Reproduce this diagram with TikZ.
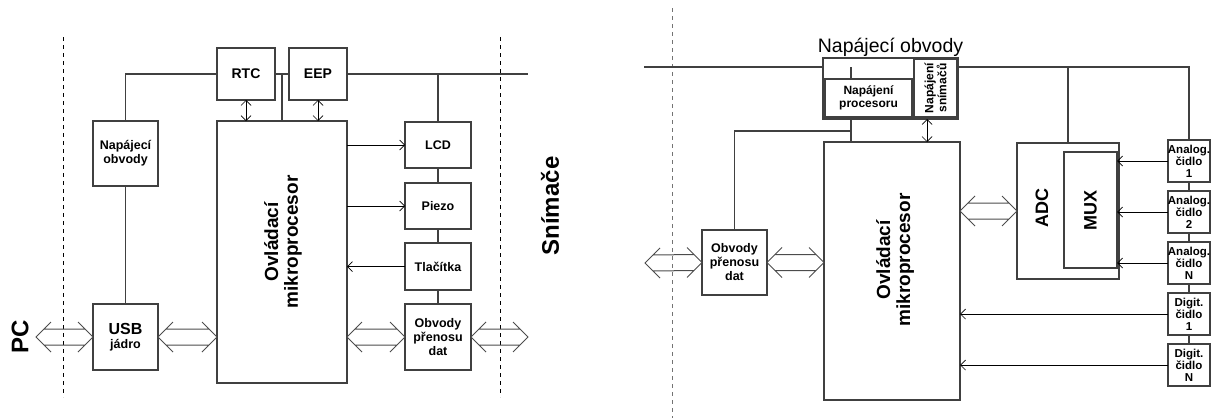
\documentclass[tikz,border=0pt]{standalone}
\usepackage{fontspec}
\setmainfont{Liberation Sans}
\usetikzlibrary{arrows.meta,positioning,calc}
\definecolor{linec}{gray}{0.25}
\definecolor{busc}{gray}{0.3}
\definecolor{sepc}{gray}{0.45}
\tikzset{
  >={Straight Barb[length=5pt,width=10pt]},
  blok/.style={draw=linec, line width=1.2pt, inner sep=0pt, outer sep=0pt, align=center, font=\bfseries\fontsize{12.5}{14}\selectfont},
  cidlo/.style={blok, minimum width=42pt, minimum height=42pt, font=\bfseries\fontsize{11.5}{12}\selectfont},
  wire/.style={draw=linec, line width=1.2pt},
  sig/.style={draw=black, line width=0.7pt},
  sep/.style={dash pattern=on 4pt off 4pt, line width=0.8pt},
  bigtxt/.style={font=\bfseries\fontsize{24}{26}\selectfont, rotate=90, inner sep=0pt},
  mcutxt/.style={font=\bfseries\fontsize{19}{20}\selectfont, rotate=90, inner sep=0pt, align=center},
  bus/.style={draw=busc, line width=1pt, to path={
    ($(\tikztostart)+(15,-15)$) -- (\tikztostart) -- ($(\tikztostart)+(15,15)$)
    ($(\tikztotarget)+(-15,-15)$) -- (\tikztotarget) -- ($(\tikztotarget)+(-15,15)$)
    ($(\tikztostart)+(8,-8)$) -- ($(\tikztotarget)+(-8,-8)$)
    ($(\tikztostart)+(8,8)$) -- ($(\tikztotarget)+(-8,8)$)}}
}
\begin{document}
\begin{tikzpicture}[x=1pt,y=-1pt]
  \useasboundingbox (0,0) rectangle (1212,418);
  % left half
  \draw[sep] (63,37) -- (63,397);
  \draw[sep] (500,37) -- (500,397);
  \node[bigtxt] (pc) at (20,337) {PC};
  \node[bigtxt] (snimace) at (550,206) {Snímače};
  \node[blok, minimum width=58pt, minimum height=52pt, font=\bfseries\fontsize{14}{16}\selectfont] (rtc) at (246,74) {RTC};
  \node[blok, minimum width=58pt, minimum height=52pt, font=\bfseries\fontsize{14}{16}\selectfont] (eep) at (318,74) {EEP};
  \node[blok, minimum width=65pt, minimum height=65pt] (nap) at (125.5,153.5) {Napájecí\\obvody};
  \node[blok, minimum width=65pt, minimum height=66pt] (usb) at (125.5,337) {{\fontsize{16}{17}\selectfont USB}\\jádro};
  \node[blok, minimum width=130pt, minimum height=262pt] (mcu) at (282,252) {};
  \node[mcutxt] (mcutx) at (283,242) {Ovládací\\mikroprocesor};
  \node[blok, minimum width=66pt, minimum height=46pt] (lcd) at (438,145) {LCD};
  \node[blok, minimum width=66pt, minimum height=46pt] (piezo) at (438,206) {Piezo};
  \node[blok, minimum width=66pt, minimum height=47pt] (tlac) at (438,266.5) {Tlačítka};
  \node[blok, minimum width=66pt, minimum height=66pt] (obv) at (438,337) {Obvody\\přenosu\\dat};
  \coordinate (pcL) at (36,337);
  \coordinate (busR1) at (528,74);
  \coordinate (snL) at (528,337);
  \draw[wire] (nap.north) |- (rtc.west);
  \draw[wire] (rtc.east) -- (eep.west);
  \draw[wire] (eep.east) -- (busR1);
  \draw[wire] (mcu.north) -- (mcu.north |- rtc.east);
  \draw[wire] (lcd.north) -- (lcd.north |- eep.east);
  \draw[wire] (nap.south) -- (usb.north);
  \draw[wire] (lcd.south) -- (piezo.north);
  \draw[wire] (piezo.south) -- (tlac.north);
  \draw[wire] (tlac.south) -- (obv.north);
  \draw[sig,<->] (rtc.south) -- (rtc.south |- mcu.north);
  \draw[sig,<->] (eep.south) -- (eep.south |- mcu.north);
  \draw[sig,->] (lcd.west -| mcu.east) -- (lcd.west);
  \draw[sig,->] (piezo.west -| mcu.east) -- (piezo.west);
  \draw[sig,->] (tlac.west) -- (tlac.west -| mcu.east);
  \draw[bus] (pcL) to (usb.west);
  \draw[bus] (usb.east) to (usb.east -| mcu.west);
  \draw[bus] (obv.west -| mcu.east) to (obv.west);
  \draw[bus] (obv.east) to (snL);
  % middle
  \draw[sep, draw=sepc] (672,8) -- (672,418);
  % right half
  \node[blok, minimum width=135pt, minimum height=61pt] (napobv) at (890.5,88.5) {};
  \node[font=\fontsize{19.5}{20}\selectfont, inner sep=0pt, above=1pt of napobv] (napobvtit) {Napájecí obvody};
  \node[blok, minimum width=87pt, minimum height=38pt, font=\bfseries\fontsize{12}{13}\selectfont] (proc) at (868.5,98) {Napájení\\procesoru};
  \node[blok, minimum width=43pt, minimum height=58pt] (snim) at (935.5,88) {};
  \node[rotate=90, inner sep=0pt, align=center, font=\bfseries\fontsize{12}{13}\selectfont] (snimtx) at (snim) {Napájení\\snímačů};
  \node[blok, minimum width=65pt, minimum height=65pt] (obv2) at (734.5,262.5) {Obvody\\přenosu\\dat};
  \node[blok, minimum width=136pt, minimum height=258pt] (mcu2) at (892,271) {};
  \node[mcutxt] (mcu2tx) at (895,260) {Ovládací\\mikroprocesor};
  \node[blok, minimum width=102pt, minimum height=136pt] (adc) at (1068,211) {};
  \node[bigtxt, font=\bfseries\fontsize{18}{20}\selectfont] (adctx) at (1042,208) {ADC};
  \node[blok, minimum width=53pt, minimum height=116pt, font=\bfseries\fontsize{18}{20}\selectfont] (mux) at (1090.5,210) {\rotatebox{90}{MUX}};
  \node[cidlo] (an1) at (1189,161) {Analog.\\čidlo\\1};
  \node[cidlo] (an2) at (1189,212) {Analog.\\čidlo\\2};
  \node[cidlo] (anN) at (1189,263) {Analog.\\čidlo\\N};
  \node[cidlo] (dg1) at (1189,314) {Digit.\\čidlo\\1};
  \node[cidlo] (dgN) at (1189,365) {Digit.\\čidlo\\N};
  \coordinate (busL) at (644,67);
  \coordinate (busR) at (1189,67);
  \coordinate (pj) at (851,131);
  \coordinate (sj) at (927,131);
  \coordinate (pcR) at (645,263);
  \draw[wire] (busL) -- (busL -| napobv.west);
  \draw[wire] (napobv.east |- busR) -- (busR) -- (an1.north);
  \draw[wire] (pj |- busR) -- (pj |- proc.north);
  \draw[wire] (pj |- proc.south) -- (pj |- mcu2.north);
  \draw[wire] (pj) -| (obv2.north);
  \draw[wire] (adc.north) -- (adc.north |- busR);
  \draw[wire] (an1.south) -- (an2.north);
  \draw[wire] (an2.south) -- (anN.north);
  \draw[wire] (anN.south) -- (dg1.north);
  \draw[wire] (dg1.south) -- (dgN.north);
  \draw[sig,<->] (sj |- napobv.south) -- (sj |- mcu2.north);
  \draw[sig,->] (an1.west) -- (an1.west -| mux.east);
  \draw[sig,->] (an2.west) -- (an2.west -| mux.east);
  \draw[sig,->] (anN.west) -- (anN.west -| mux.east);
  \draw[sig,->] (dg1.west) -- (dg1.west -| mcu2.east);
  \draw[sig,->] (dgN.west) -- (dgN.west -| mcu2.east);
  \draw[bus] (pcR) to (obv2.west);
  \draw[bus] (obv2.east) to (obv2.east -| mcu2.west);
  \draw[bus] (mcu2.east |- adc.west) to (adc.west);
\end{tikzpicture}
\end{document}
